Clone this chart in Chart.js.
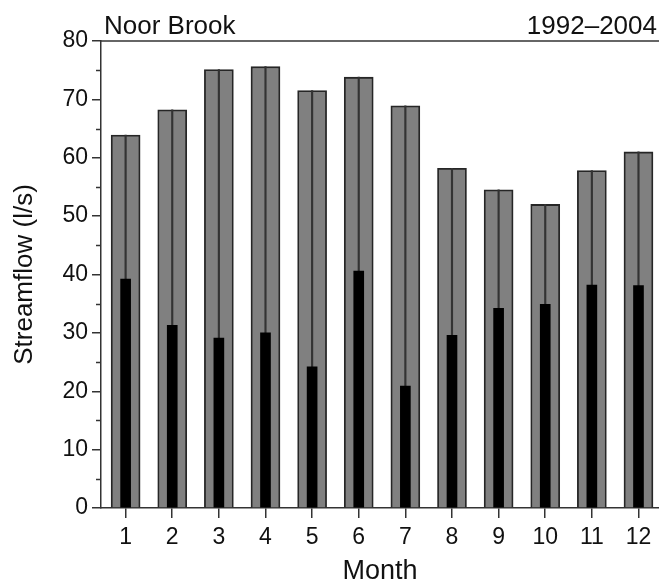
<!DOCTYPE html>
<html lang="en">
<head>
  <meta charset="UTF-8">
  <title>Noor Brook streamflow</title>
  <script src="https://cdn.jsdelivr.net/npm/chart.js@4.4.0/dist/chart.umd.min.js"></script>
  <style>
    html, body { margin: 0; padding: 0; background: #fff; }
    #wrap { width: 659px; height: 585px; }
  </style>
</head>
<body>
  <div id="wrap"><canvas id="myChart"></canvas></div>
  <script>
    // monthly streamflow, l/s
    const months = [1, 2, 3, 4, 5, 6, 7, 8, 9, 10, 11, 12];
    const meanFlow = [63.9, 68.2, 75.1, 75.6, 71.5, 73.8, 68.9, 58.2, 54.5, 52.0, 57.8, 61.0];
    const lowFlow = [39.2, 31.3, 29.1, 30.0, 24.2, 40.6, 20.9, 29.6, 34.2, 34.9, 38.2, 38.1];
    const yTicks = [0, 10, 20, 30, 40, 50, 60, 70, 80];
    const yMinor = [5, 15, 25, 35, 45, 55, 65, 75];
    const titleLeft = 'Noor Brook';
    const titleRight = '1992\u20132004';

    const FONT = "'Liberation Sans', Arial, sans-serif";
    const AXIS = '#333';

    const pts = arr => months.map((m, i) => ({ x: m, y: arr[i] }));

    // minor y ticks, frame top line and the two header texts
    const decor = {
      id: 'decor',
      afterDraw(chart) {
        const ctx = chart.ctx;
        const a = chart.chartArea;
        const y = chart.scales.y;
        ctx.save();
        ctx.strokeStyle = AXIS;
        ctx.lineWidth = 1.5;
        yMinor.forEach(v => {
          const py = Math.round(y.getPixelForValue(v)) + 0.5;
          ctx.beginPath();
          ctx.moveTo(a.left - 5, py);
          ctx.lineTo(a.left, py);
          ctx.stroke();
        });
        ctx.beginPath();
        ctx.moveTo(a.left, a.top);
        ctx.lineTo(chart.width, a.top);
        ctx.stroke();
        ctx.fillStyle = '#111';
        ctx.font = '26px ' + FONT;
        ctx.textBaseline = 'alphabetic';
        ctx.textAlign = 'left';
        ctx.fillText(titleLeft, a.left + 3, a.top - 7);
        ctx.textAlign = 'right';
        ctx.fillText(titleRight, chart.width - 2, a.top - 7);
        ctx.restore();
      }
    };

    const ctx = document.getElementById('myChart').getContext('2d');
    const myChart = new Chart(ctx, {
      type: 'bar',
      data: {
        datasets: [
          {
            label: 'mean',
            data: pts(meanFlow),
            backgroundColor: '#808080',
            borderColor: '#262626',
            borderWidth: 1.8,
            barThickness: 29,
            order: 3
          },
          {
            label: 'centre',
            data: pts(meanFlow),
            backgroundColor: '#333',
            borderWidth: 0,
            barThickness: 1.5,
            order: 2
          },
          {
            label: 'low',
            data: pts(lowFlow),
            backgroundColor: '#000',
            borderWidth: 0,
            barThickness: 10,
            order: 1
          }
        ]
      },
      options: {
        responsive: true,
        maintainAspectRatio: false,
        animation: false,
        grouped: false,
        layout: { padding: { top: 41, right: 0, left: 0, bottom: 0 } },
        plugins: {
          legend: { display: false },
          tooltip: { enabled: false }
        },
        scales: {
          x: {
            type: 'linear',
            offset: false,
            min: 0.472,
            max: 12.44,
            afterBuildTicks: s => { s.ticks = months.map(v => ({ value: v })); },
            afterFit: s => { s.height = 77; },
            grid: { offset: false, drawOnChartArea: false, tickLength: 10, color: AXIS, lineWidth: 1.5 },
            border: { color: AXIS, width: 1.5 },
            ticks: { color: '#111', padding: 6, font: { family: FONT, size: 23 } },
            title: {
              display: true,
              text: 'Month',
              color: '#111',
              font: { family: FONT, size: 27, lineHeight: 1 },
              padding: { top: 0, bottom: 0 }
            }
          },
          y: {
            min: 0,
            max: 80,
            afterBuildTicks: s => { s.ticks = yTicks.map(v => ({ value: v })); },
            afterFit: s => { s.width = 101; },
            grid: { drawOnChartArea: false, tickLength: 9, color: AXIS, lineWidth: 1.5 },
            border: { color: AXIS, width: 1.5 },
            ticks: { color: '#111', padding: 4, font: { family: FONT, size: 23 } },
            title: {
              display: true,
              text: 'Streamflow (l/s)',
              color: '#111',
              font: { family: FONT, size: 26 },
              padding: { top: 9, bottom: 0 }
            }
          }
        }
      },
      plugins: [decor]
    });
  </script>
</body>
</html>
